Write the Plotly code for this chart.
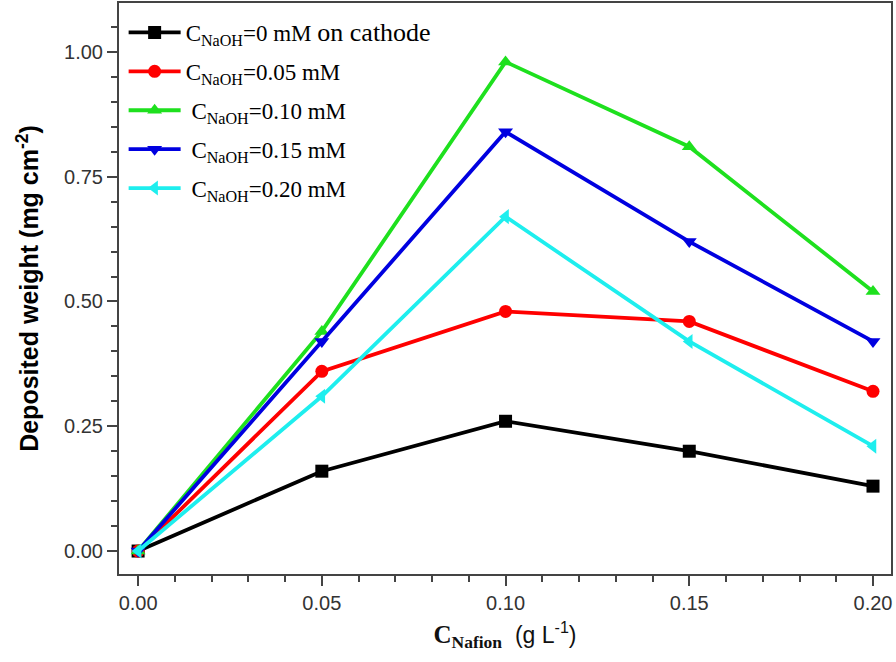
import plotly.graph_objects as go

x_nafion = [0.0, 0.05, 0.10, 0.15, 0.20]
series_names = [
    "C<sub>NaOH</sub>=0 mM <span style='font-family:Liberation Serif;font-size:26px'>on cathode</span>",
    "C<sub>NaOH</sub>=0.05 mM",
    " C<sub>NaOH</sub>=0.10 mM",
    " C<sub>NaOH</sub>=0.15 mM",
    " C<sub>NaOH</sub>=0.20 mM",
]
y_0mM = [0.0, 0.16, 0.26, 0.20, 0.13]
y_005mM = [0.0, 0.36, 0.48, 0.46, 0.32]
y_010mM = [0.0, 0.44, 0.98, 0.81, 0.52]
y_015mM = [0.0, 0.42, 0.84, 0.62, 0.42]
y_020mM = [0.0, 0.31, 0.67, 0.42, 0.21]

series_values = [y_0mM, y_005mM, y_010mM, y_015mM, y_020mM]
colors = ["#000000", "#FF0000", "#1EE01E", "#0000E0", "#1EEEEE"]
symbols = ["square", "circle", "triangle-up", "triangle-down", "triangle-left"]

fig = go.Figure()
for i, (name, ys, c, s) in enumerate(zip(series_names, series_values, colors, symbols)):
    fig.add_trace(go.Scatter(
        x=x_nafion, y=ys, name=name, mode="lines+markers", legendgroup=f"g{i}",
        line=dict(color=c, width=3.8),
        marker=dict(symbol=s, size=13, color=c),
    ))

axis_common = dict(
    showline=True, linecolor="#444444", linewidth=2, mirror=True,
    ticks="outside", ticklen=10, tickwidth=1.5, tickcolor="#444444",
    showgrid=False, zeroline=False, automargin=False,
    tickfont=dict(family="Liberation Sans, Arial", size=20, color="#333333"),
)

fig.update_layout(
    width=896, height=662,
    paper_bgcolor="white", plot_bgcolor="white",
    margin=dict(l=119, r=5, t=3, b=88),
    xaxis=dict(
        range=[-0.0052, 0.2049], tickvals=[0, 0.05, 0.10, 0.15, 0.20],
        ticktext=["0.00", "0.05", "0.10", "0.15", "0.20"],
        minor=dict(dtick=0.01, tick0=0, ticks="outside", ticklen=6, tickcolor="#444444", tickwidth=1.5),
        title=dict(
            text="<span style='font-family:Liberation Serif;font-weight:bold;font-size:25px'>C<sub>Nafion</sub></span>  (g L<sup>-1</sup>)",
            font=dict(family="Liberation Sans, Arial", size=23, color="#111111"),
            standoff=14,
        ),
        **axis_common,
    ),
    yaxis=dict(
        range=[-0.046, 1.098], tickvals=[0, 0.25, 0.5, 0.75, 1.0],
        ticktext=["0.00", "0.25", "0.50", "0.75", "1.00"],
        minor=dict(dtick=0.05, tick0=0, ticks="outside", ticklen=6, tickcolor="#444444", tickwidth=1.5),
        title=dict(
            text="<b>Deposited weight (mg cm<sup>-2</sup>)</b>",
            font=dict(family="Liberation Sans, Arial", size=25, color="#000000"),
            standoff=18,
        ),
        **axis_common,
    ),
    legend=dict(
        x=0.006, y=0.986, xanchor="left", yanchor="top",
        bgcolor="rgba(0,0,0,0)",
        font=dict(family="Liberation Serif, Times New Roman", size=23, color="#000000"),
        itemwidth=52, tracegroupgap=6,
    ),
)

fig.write_html(
    "out.html",
    config={"displayModeBar": False},
    post_script="document.body.style.margin='0';document.body.style.overflow='hidden';",
)
